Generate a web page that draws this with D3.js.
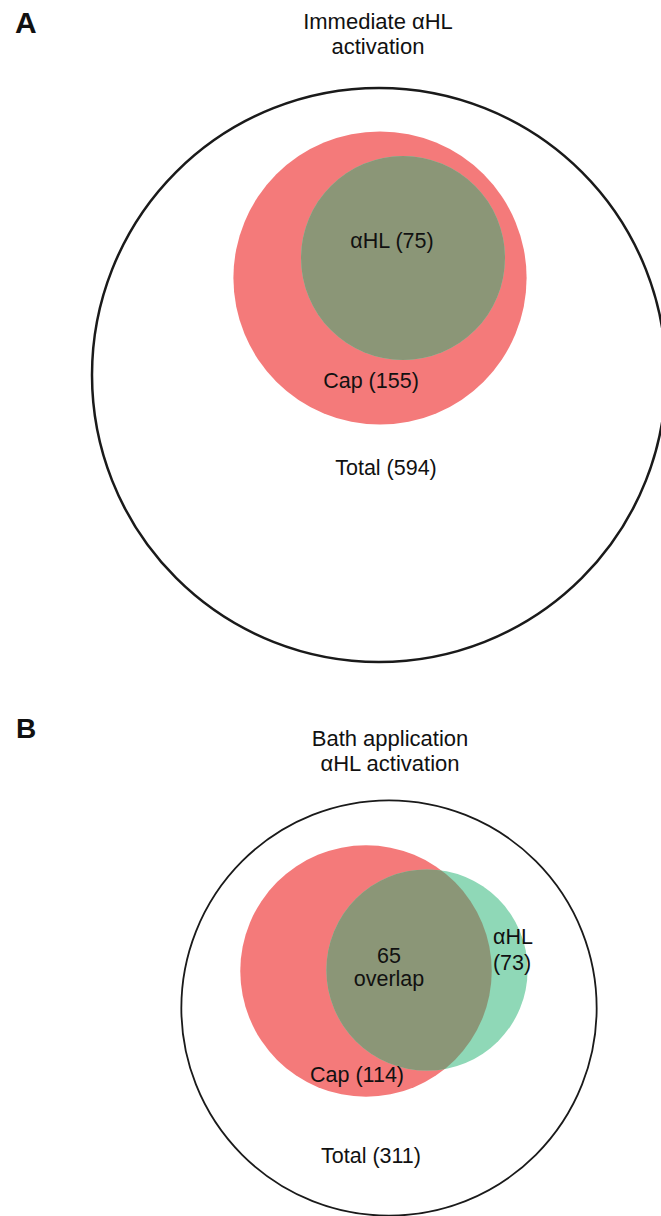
<!DOCTYPE html>
<html lang="en">
    <head>
        <meta charset="utf-8">
        <title>Venn diagrams</title>
        <script src="https://d3js.org/d3.v7.min.js"></script>
        <style>
            body { margin: 0; background: #fff; }
            text { font-family: "Liberation Sans", Arial, sans-serif; fill: #111; }
        </style>
    </head>

    <body>
        <div id="chart"></div>

        <script>

            // data
            var panelLetters = ["A", "B"];
            var panelTitles = [["Immediate \u03b1HL", "activation"], ["Bath application", "\u03b1HL activation"]];
            var totalCounts = [594, 311];
            var capCounts = [155, 114];
            var ahlCounts = [75, 73];
            var overlapCounts = [75, 65];

            var width = 661;
            var height = 1216;

            // colours
            var capColor = "#f47a7a";
            var ahlColor = "#8fd8b7";
            var bothColor = "#8b9677";

            // circle area is proportional to the number of cells
            var r = d3.scaleSqrt()
                .domain([0, d3.max(totalCounts)])
                .range([0, 287]);

            // layout of each panel (centre of outer circle, offsets of the inner circles and labels)
            var layout = [
                {
                    cx: 379, cy: 375, stroke: 2.5,
                    letter: [15, 33, 30], title: [378, 29],
                    cap: [1, -97], ahl: [24, -117],
                    labels: [
                        {dx: 13, dy: -127, text: "\u03b1HL (" + ahlCounts[0] + ")"},
                        {dx: -8, dy: 13, text: "Cap (" + capCounts[0] + ")"},
                        {dx: 7, dy: 100, text: "Total (" + totalCounts[0] + ")"}
                    ]
                },
                {
                    cx: 389, cy: 1008, stroke: 1.8,
                    letter: [16, 738, 28], title: [390, 746],
                    cap: [-23, -37], ahl: [38, -38],
                    labels: [
                        {dx: 0, dy: -45, text: String(overlapCounts[1])},
                        {dx: 0, dy: -22, text: "overlap"},
                        {dx: 124, dy: -64, text: "\u03b1HL"},
                        {dx: 123, dy: -38, text: "(" + ahlCounts[1] + ")"},
                        {dx: -32, dy: 74, text: "Cap (" + capCounts[1] + ")"},
                        {dx: -18, dy: 155, text: "Total (" + totalCounts[1] + ")"}
                    ]
                }
            ];

            var svg = d3.select("#chart")
                        .append("svg")
                        .attr("width", width)
                        .attr("height", height);

            var defs = svg.append("defs");

            panelLetters.forEach(function(letter, i) {
                var L = layout[i];
                var g = svg.append("g");

                // panel letter
                g.append("text")
                    .attr("x", L.letter[0])
                    .attr("y", L.letter[1])
                    .style("font-size", L.letter[2] + "px")
                    .style("font-weight", "bold")
                    .text(letter);

                // title, two lines
                g.selectAll(".title")
                    .data(panelTitles[i])
                    .enter()
                    .append("text")
                    .attr("class", "title")
                    .attr("x", L.title[0])
                    .attr("y", function(d, j) { return L.title[1] + j * 25; })
                    .attr("text-anchor", "middle")
                    .style("font-size", "22px")
                    .text(function(d) { return d; });

                // outer circle: all cells
                g.append("circle")
                    .attr("cx", L.cx)
                    .attr("cy", L.cy)
                    .attr("r", r(totalCounts[i]))
                    .attr("fill", "none")
                    .attr("stroke", "#1a1a1a")
                    .attr("stroke-width", L.stroke);

                var capX = L.cx + L.cap[0], capY = L.cy + L.cap[1];
                var ahlX = L.cx + L.ahl[0], ahlY = L.cy + L.ahl[1];

                // clip for the overlap region
                defs.append("clipPath")
                    .attr("id", "capclip" + i)
                    .append("circle")
                    .attr("cx", capX)
                    .attr("cy", capY)
                    .attr("r", r(capCounts[i]));

                g.append("circle")
                    .attr("cx", capX)
                    .attr("cy", capY)
                    .attr("r", r(capCounts[i]))
                    .attr("fill", capColor);

                g.append("circle")
                    .attr("cx", ahlX)
                    .attr("cy", ahlY)
                    .attr("r", r(ahlCounts[i]))
                    .attr("fill", ahlColor);

                g.append("circle")
                    .attr("cx", ahlX)
                    .attr("cy", ahlY)
                    .attr("r", r(ahlCounts[i]))
                    .attr("fill", bothColor)
                    .attr("clip-path", "url(#capclip" + i + ")");

                // labels
                g.selectAll(".lbl")
                    .data(L.labels)
                    .enter()
                    .append("text")
                    .attr("class", "lbl")
                    .attr("x", function(d) { return L.cx + d.dx; })
                    .attr("y", function(d) { return L.cy + d.dy; })
                    .attr("text-anchor", "middle")
                    .style("font-size", "21.5px")
                    .text(function(d) { return d.text; });
            });

        </script>
    </body>
</html>
